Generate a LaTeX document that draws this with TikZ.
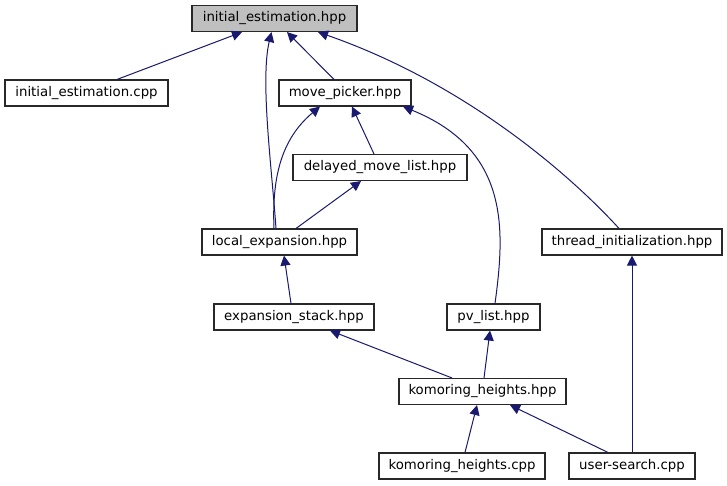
\documentclass[tikz,border=0pt]{standalone}
\usepackage{fontspec}
\setmainfont{DejaVu Sans}
\usetikzlibrary{arrows.meta}
\definecolor{edgeblue}{RGB}{25,25,112}
\definecolor{boxline}{RGB}{40,40,40}
\definecolor{rootfill}{RGB}{191,191,191}
\tikzset{
  filebox/.style={draw=boxline, line width=1.1pt, fill=white, inner sep=0pt, minimum width=#1, minimum height=26pt, font=\fontsize{13.3}{16}\selectfont, text=black},
  rootbox/.style={filebox=#1, fill=rootfill},
  dep/.style={draw=edgeblue, line width=1pt, -{Triangle[length=10pt,width=10pt]}, color=edgeblue}
}
\begin{document}
\begin{tikzpicture}[x=1pt,y=-1pt]
\useasboundingbox (0,0) rectangle (727,485);
\node[rootbox=165pt] (ieh) at (274.5,18.5) {initial\_estimation.hpp};
\node[filebox=163pt] (iec) at (86.5,93) {initial\_estimation.cpp};
\node[filebox=132pt] (mp) at (345,93) {move\_picker.hpp};
\node[filebox=174pt] (dml) at (380,167.5) {delayed\_move\_list.hpp};
\node[filebox=155pt] (le) at (279.5,242) {local\_expansion.hpp};
\node[filebox=180pt] (ti) at (632,242) {thread\_initialization.hpp};
\node[filebox=160pt] (es) at (294,317) {expansion\_stack.hpp};
\node[filebox=93pt] (pv) at (493.5,317) {pv\_list.hpp};
\node[filebox=167pt] (kh) at (482.5,391.5) {komoring\_heights.hpp};
\node[filebox=166pt] (khc) at (462,466) {komoring\_heights.cpp};
\node[filebox=126pt] (us) at (632,466) {user-search.cpp};

\draw[dep] ([xshift=30.5pt]iec.north) -- ([xshift=-32.5pt]ieh.south);
\draw[dep] ([xshift=-3.5pt]le.north) .. controls (272,170) and (260,80) .. ([xshift=-3pt]ieh.south);
\draw[dep] ([xshift=-11pt]mp.north) -- ([xshift=12.5pt]ieh.south);
\draw[dep] ([xshift=-13pt]ti.north) .. controls (575,180) and (470,85) .. ([xshift=43.5pt]ieh.south);
\draw[dep] ([xshift=-5.5pt]le.north) .. controls (272,180) and (280,140) .. ([xshift=-25pt]mp.south);
\draw[dep] ([xshift=-6pt]dml.north) -- ([xshift=7pt]mp.south);
\draw[dep] ([xshift=16.5pt]le.north) -- ([xshift=-19pt]dml.south);
\draw[dep] ([xshift=1.5pt]pv.north) .. controls (505,230) and (510,150) .. ([xshift=58pt]mp.south);
\draw[dep] ([xshift=-3pt]es.north) -- ([xshift=4.5pt]le.south);
\draw[dep] ([xshift=-30.5pt]kh.north) -- ([xshift=36pt]es.south);
\draw[dep] ([xshift=1.5pt]kh.north) -- ([xshift=-3.5pt]pv.south);
\draw[dep] ([xshift=3pt]khc.north) -- ([xshift=-5.5pt]kh.south);
\draw[dep] ([xshift=-24pt]us.north) -- ([xshift=27.5pt]kh.south);
\draw[dep] (us.north) -- (ti.south);
\end{tikzpicture}
\end{document}
